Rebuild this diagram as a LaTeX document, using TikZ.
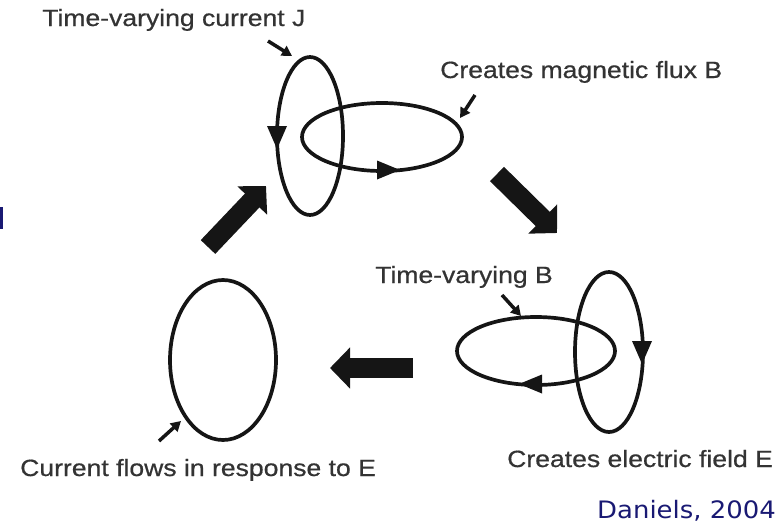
\documentclass[tikz,border=0pt]{standalone}
\usepackage{fontspec}
\setmainfont{Liberation Sans}
\newfontfamily\lblfont[FakeBold=0.6]{Liberation Sans}
\newfontfamily\dejavu{DejaVu Sans}
\usetikzlibrary{arrows.meta}
\definecolor{ink}{HTML}{151515}
\definecolor{txt}{HTML}{333333}
\definecolor{navy}{RGB}{25,25,115}
\begin{document}
\begin{tikzpicture}[x=1pt,y=-1pt,
  loopline/.style={draw=ink, line width=3.7pt},
  headfill/.style={fill=ink},
  lbl/.style={text=txt, font=\lblfont\fontsize{23.5}{28}\selectfont, inner sep=0pt, anchor=base west, xscale=1.13},
  pointer/.style={draw=ink, line width=3.5pt, -{Triangle[width=11pt,length=10pt]}},
  bigarrow/.style={draw=ink, line width=20pt, -{Triangle[width=40pt,length=20pt]}},
]
\useasboundingbox (0,0) rectangle (781,525);

% remnant at the left edge
\fill[navy] (0,207) rectangle (2.5,229);

% ---- top group: current loop J and flux B
\draw[loopline] (310,136) ellipse [x radius=33, y radius=79];
\draw[loopline] (382,137) ellipse [x radius=80, y radius=34];
\fill[headfill] (277,149) -- (267,126) -- (287,126) -- cycle;
\fill[headfill] (400,170) -- (377,160.5) -- (377,179.5) -- cycle;

% ---- bottom right group: time-varying B and E
\draw[loopline] (536,351) ellipse [x radius=79, y radius=34];
\draw[loopline] (609,352) ellipse [x radius=34, y radius=80];
\fill[headfill] (642,364) -- (632,341) -- (652,341) -- cycle;
\fill[headfill] (519,384) -- (542,374.5) -- (542,393.5) -- cycle;

% ---- bottom left loop
\draw[loopline] (223,360) ellipse [x radius=53, y radius=80];

% ---- labels
\node[lbl] (lJ) at (42,26) {Time-varying current J};
\node[lbl] (lB) at (440,78) {Creates magnetic flux B};
\node[lbl] (lTB) at (375,283) {Time-varying B};
\node[lbl] (lE) at (507,467) {Creates electric field E};
\node[lbl] (lC) at (20,476) {Current flows in response to E};
\node[text=navy, font=\dejavu\fontsize{24}{28}\selectfont, inner sep=0pt, anchor=base west, xscale=1.08] (cite) at (597,518) {Daniels, 2004};

% ---- pointers
\coordinate (p1s) at (268,41);  \coordinate (p1e) at (292,56);
\coordinate (p2s) at (475,95);  \coordinate (p2e) at (460,118);
\coordinate (p3s) at (502,295); \coordinate (p3e) at (521,316);
\coordinate (p4s) at (159,441); \coordinate (p4e) at (181,421);
\draw[pointer] (p1s) -- (p1e);
\draw[pointer] (p2s) -- (p2e);
\draw[pointer] (p3s) -- (p3e);
\draw[pointer] (p4s) -- (p4e);

% ---- big block arrows
\coordinate (a1s) at (208,247); \coordinate (a1e) at (266,186);
\coordinate (a2s) at (497,174); \coordinate (a2e) at (557,233);
\coordinate (a3s) at (413,368); \coordinate (a3e) at (330,368);
\draw[bigarrow] (a1s) -- (a1e);
\draw[bigarrow] (a2s) -- (a2e);
\draw[bigarrow] (a3s) -- (a3e);
\end{tikzpicture}
\end{document}
